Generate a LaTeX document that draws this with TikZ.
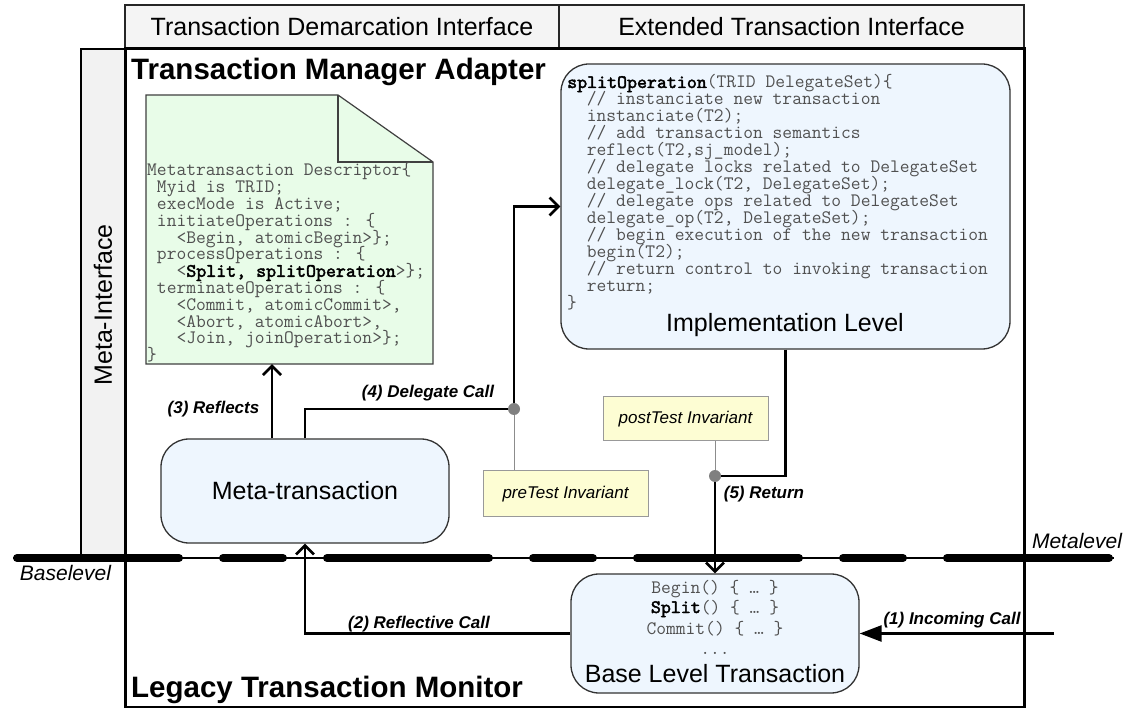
\documentclass[tikz,border=0pt]{standalone}
\usepackage{fontspec}
\setmainfont{Liberation Sans}
\newfontfamily\codebold{lmmono10-regular.otf}[FakeBold=2.2]
\usetikzlibrary{arrows.meta}
\definecolor{hdrfill}{HTML}{F4F4F4}
\definecolor{stripfill}{HTML}{F2F2F2}
\definecolor{boxfill}{HTML}{EEF6FE}
\definecolor{docfill}{HTML}{E8FCE8}
\definecolor{invfill}{HTML}{FDFDD3}
\definecolor{codegray}{HTML}{505050}
\definecolor{dotgray}{HTML}{808080}
\newcommand{\myfs}[1]{\fontsize{#1}{#1}\selectfont}
\newcommand{\cb}[1]{{\codebold\color{black}#1}}
\begin{document}
\begin{tikzpicture}[x=1pt,y=-1pt,
  hdrcell/.style={draw=black!85, line width=1.3pt, fill=hdrfill, minimum height=44pt, inner sep=0pt, font=\myfs{25}},
  rbox/.style={draw=black!80, line width=1.3pt, fill=boxfill, rounded corners=28pt, inner sep=0pt},
  invbox/.style={draw=black!40, line width=1pt, fill=invfill, inner sep=0pt, font=\myfs{17}\itshape},
  code/.style={font=\ttfamily\myfs{19}, text=codegray, inner sep=0pt},
  conn/.style={line width=2.6pt, line join=miter},
  barb/.style={-{Straight Barb[length=9pt,width=18pt]}},
  lbl/.style={font=\myfs{17}\bfseries\itshape, inner sep=0pt},
  greyline/.style={draw=black!45, line width=1pt},
  jdot/.style={circle, fill=dotgray, minimum size=12pt, inner sep=0pt},
  titletext/.style={font=\myfs{29.5}\bfseries, inner sep=0pt, anchor=base west},
  bigtext/.style={font=\myfs{25}, inner sep=0pt}
]
\useasboundingbox (0,0) rectangle (1128,708);
\fill[white] (0,0) rectangle (1128,708);

% header cells
\node[hdrcell, minimum width=434pt] (hdrA) at (342,27) {Transaction Demarcation Interface};
\node[hdrcell, minimum width=465pt] (hdrB) at (791.5,27) {Extended Transaction Interface};

% meta-interface strip
\node[draw=black, line width=1.5pt, fill=stripfill, minimum width=44pt, minimum height=509pt, inner sep=0pt] (strip) at (103,303.5) {};
\node[bigtext, rotate=90] (striptext) at (103,305) {Meta-Interface};

% main box
\node[draw=black, line width=3pt, minimum width=899pt, minimum height=658pt, inner sep=0pt] (main) at (574.5,378) {};

% titles
\node[titletext] (tma) at (131,80) {Transaction Manager Adapter};
\node[titletext] (ltm) at (131,697) {Legacy Transaction Monitor};

% document
\node[inner sep=0pt, minimum width=287pt, minimum height=269pt] (doc) at (289.5,229.5) {};
\draw[draw=black!75, line width=1.2pt, fill=docfill] (146,95) -- (338,95) -- (433,162) -- (433,364) -- (146,364) -- cycle;
\draw[draw=black!75, line width=1.2pt] (338,95) -- (338,162) -- (433,162);
\foreach \codeline [count=\i] in {
  {Metatransaction Descriptor\{},
  {\ Myid is TRID;},
  {\ execMode is Active;},
  {\ initiateOperations : \{},
  {\ \ \ <Begin, atomicBegin>\};},
  {\ processOperations : \{},
  {\ \ \ <\cb{Split, splitOperation}>\};},
  {\ terminateOperations : \{},
  {\ \ \ <Commit, atomicCommit>,},
  {\ \ \ <Abort, atomicAbort>,},
  {\ \ \ <Join, joinOperation>\};},
  {\}}
} \node[code, anchor=base west] (dl\i) at (147, {176+16.8*(\i-1)}) {\codeline};

% implementation box
\node[rbox, minimum width=449pt, minimum height=285pt] (impl) at (785.5,206.5) {};
\foreach \codeline [count=\i] in {
  {\cb{splitOperation}(TRID DelegateSet)\{},
  {\ \ // instanciate new transaction},
  {\ \ instanciate(T2);},
  {\ \ // add transaction semantics},
  {\ \ reflect(T2,sj\_model);},
  {\ \ // delegate locks related to DelegateSet},
  {\ \ delegate\_lock(T2, DelegateSet);},
  {\ \ // delegate ops related to DelegateSet},
  {\ \ delegate\_op(T2, DelegateSet);},
  {\ \ // begin execution of the new transaction},
  {\ \ begin(T2);},
  {\ \ // return control to invoking transaction},
  {\ \ return;},
  {\}}
} \node[code, anchor=base west] (il\i) at (567, {88+17*(\i-1)}) {\codeline};
\node[bigtext, anchor=base] (impllbl) at (785,332) {Implementation Level};

% invariants
\node[invbox, minimum width=165pt, minimum height=46pt] (pre) at (565.5,494) {preTest Invariant};
\node[invbox, minimum width=165pt, minimum height=44pt] (post) at (685.5,419) {postTest Invariant};

% meta-transaction
\node[rbox, minimum width=288pt, minimum height=104pt, font=\myfs{25}] (meta) at (305,491) {Meta-transaction};

% base level transaction
\node[rbox, minimum width=288pt, minimum height=119pt] (base) at (715,633.5) {};
\node[code, anchor=base] (b1) at (715,593) {Begin() \{ … \}};
\node[code, anchor=base] (b2) at (715,613) {\cb{Split}() \{ … \}};
\node[code, anchor=base] (b3) at (715,634) {Commit() \{ … \}};
\node[code, anchor=base] (b4) at (715,654) {...};
\node[bigtext, anchor=base] (b5) at (715,682) {Base Level Transaction};

% metalevel line
\coordinate (mlA) at (13,558);
\coordinate (mlB) at (1114,558);
\coordinate (mlC) at (17,558);
\coordinate (mlD) at (1110,558);
\draw[line width=2.6pt] (mlA) -- (mlB);
\draw[line width=8pt, line cap=round, dash pattern=on 162pt off 44pt on 60pt off 44pt] (mlC) -- (mlD);
\node[font=\myfs{21}\itshape, inner sep=0pt] (mltext) at (1077,541) {Metalevel};
\node[font=\myfs{21}\itshape, inner sep=0pt] (bltext) at (65.5,573) {Baselevel};

% junctions
\coordinate (j1) at (514,409);
\coordinate (j2) at (715,476);

% connectors
\draw[conn, barb] ([xshift=-33pt]meta.north) -- ([xshift=-17.5pt]doc.south);
\draw[conn, barb] (meta.north) |- (j1) |- (impl.west);
\draw[greyline] (j1) -- (j1 |- pre.north);
\draw[greyline] (j2) -- (j2 |- post.south);
\draw[conn, barb] (impl.south) |- (j2) -- (base.north);
\draw[conn, barb] (base.west) -| (meta.south);
\coordinate (inc) at (1054,633.5);
\draw[conn, -{Triangle[length=22pt,width=16pt]}] (inc) -- (base.east);

\node[jdot] (dot1) at (j1) {};
\node[jdot] (dot2) at (j2) {};

% labels
\node[lbl] (l3) at (213.5,409.5) {(3) Reflects};
\node[lbl] (l4) at (428,393.5) {(4) Delegate Call};
\node[lbl] (l2) at (419,624.5) {(2) Reflective Call};
\node[lbl] (l1) at (952,620.5) {(1) Incoming Call};
\node[lbl] (l5) at (764,494.5) {(5) Return};
\end{tikzpicture}
\end{document}
